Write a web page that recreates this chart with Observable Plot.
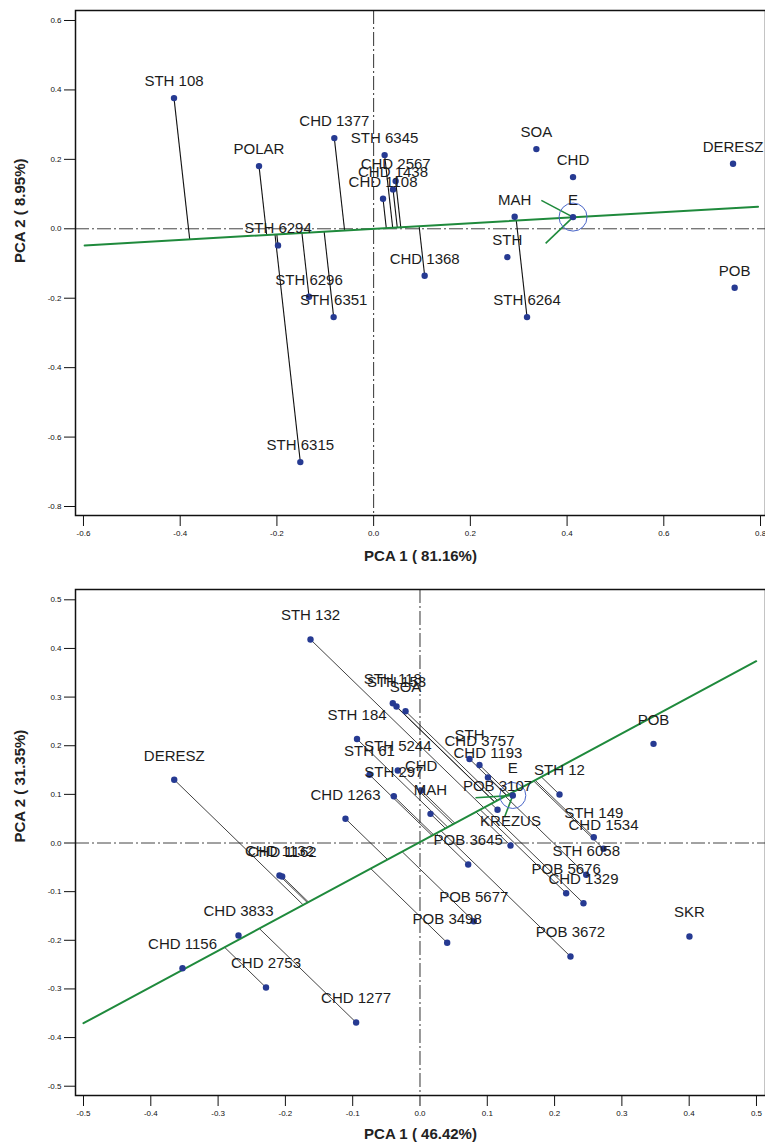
<!DOCTYPE html>
<html><head><meta charset="utf-8">
<script src="https://cdn.jsdelivr.net/npm/d3@7"></script>
<script src="https://cdn.jsdelivr.net/npm/@observablehq/plot@0.6"></script>
<style>
body{margin:0;background:#fff;}
#wrap{width:765px;}
#wrap svg{display:block;}
</style>
</head><body><div id="wrap"></div>
<script>
// ---------- Top panel data (PCA 1 81.16%, PCA 2 8.95%) ----------
const topNames = ["STH 108","POLAR","CHD 1377","STH 6345","CHD 2567","CHD 1438","CHD 1108","STH 6294","STH 6296","STH 6351","STH 6315","CHD 1368","STH","STH 6264","MAH","SOA","CHD","DERESZ","POB"];
const topX = [-0.4128,-0.2370,-0.0813,0.0227,0.0455,0.0401,0.0194,-0.1977,-0.1336,-0.0827,-0.1516,0.1055,0.2765,0.3172,0.2916,0.3365,0.4123,0.7432,0.7465];
const topY = [0.3765,0.1806,0.2613,0.2123,0.1374,0.1135,0.0864,-0.0478,-0.1959,-0.2544,-0.6721,-0.1354,-0.0815,-0.2544,0.0346,0.2296,0.1489,0.1872,-0.1700];
const topProj = [1,1,1,1,1,1,1,1,1,1,1,1,0,1,1,0,0,0,0];
const topAxisX = [-0.5976, 0.7949];
const topAxisY = [-0.0478, 0.0634];
const topE = [0.4123, 0.0337];
const topXTicks = [-0.6,-0.4,-0.2,0.0,0.2,0.4,0.6,0.8];
const topYTicks = [0.6,0.4,0.2,0.0,-0.2,-0.4,-0.6,-0.8];
const topXTitle = "PCA 1 ( 81.16%)";
const topYTitle = "PCA 2 ( 8.95%)";

// ---------- Bottom panel data (PCA 1 46.42%, PCA 2 31.35%) ----------
const botNames = ["STH 132","DERESZ","STH 184","STH 118","STH 153","SOA","STH 61","STH 5244","STH 297","CHD","CHD 1263","MAH","STH","CHD 3757","CHD 1193","POB 3107","KREZUS","POB 3645","STH 12","STH 149","CHD 1534","STH 6058","POB 5676","CHD 1329","POB","SKR","POB 5677","POB 3498","POB 3672","CHD 1277","CHD 2753","CHD 3833","CHD 1156","CHD 1132","CHD 1162"];
const botX = [-0.1627,-0.3652,-0.0936,-0.0404,-0.0349,-0.0215,-0.0750,-0.0330,-0.0389,0.0018,-0.1107,0.0156,0.0736,0.0884,0.1010,0.1152,0.1345,0.0716,0.2073,0.2582,0.2727,0.2470,0.2172,0.2429,0.3470,0.4004,0.0799,0.0404,0.2236,-0.0949,-0.2288,-0.2697,-0.3529,-0.2088,-0.2048];
const botY = [0.4184,0.1301,0.2138,0.2874,0.2806,0.2710,0.1402,0.1491,0.0962,0.1079,0.0500,0.0600,0.1727,0.1604,0.1347,0.0683,-0.0051,-0.0442,0.0997,0.0119,-0.0119,-0.0654,-0.1032,-0.1238,0.2039,-0.1922,-0.1608,-0.2052,-0.2333,-0.3690,-0.2971,-0.1902,-0.2574,-0.0668,-0.0689];
const botProj = [1,1,1,1,1,1,1,1,1,1,1,1,1,1,1,1,1,1,1,1,1,1,1,1,0,0,1,1,1,1,1,1,1,1,1];
const botAxisX = [-0.5000, 0.4996];
const botAxisY = [-0.3705, 0.3738];
const botE = [0.1379, 0.0977];
const botXTicks = [-0.5,-0.4,-0.3,-0.2,-0.1,0.0,0.1,0.2,0.3,0.4,0.5];
const botYTicks = [0.5,0.4,0.3,0.2,0.1,0.0,-0.1,-0.2,-0.3,-0.4,-0.5];
const botXTitle = "PCA 1 ( 46.42%)";
const botYTitle = "PCA 2 ( 31.35%)";

// ---------- styling ----------
const GREEN = "#1f8a3c", DOT = "#263a92", RING = "#4a66c8", INK = "#1c1c1c";
const FONT = "'Liberation Sans', Arial, Helvetica, sans-serif";
const fmt = d => d3.format(".1f")(d).replace("\u2212", "-");

function project(xs, ys, ax, ay) {
  const dx = ax[1] - ax[0], dy = ay[1] - ay[0], dd = dx * dx + dy * dy;
  return xs.map((x, i) => {
    const t = ((x - ax[0]) * dx + (ys[i] - ay[0]) * dy) / dd;
    return [ax[0] + t * dx, ay[0] + t * dy];
  });
}

function panel(p) {
  const feet = project(p.xs, p.ys, p.axisX, p.axisY);
  const rows = p.names.map((n, i) => ({name: n, x: p.xs[i], y: p.ys[i], proj: p.proj[i], fx: feet[i][0], fy: feet[i][1]}));
  const axisPts = p.axisX.map((x, i) => ({x, y: p.axisY[i]}));
  const ppx = (p.width - p.ml - p.mr) / (p.xDomain[1] - p.xDomain[0]);
  const ppy = (p.height - p.mt - p.mb) / (p.yDomain[1] - p.yDomain[0]);
  const E = {x: p.E[0], y: p.E[1], name: "E"};
  const arms = p.armDx.map((dx, i) => ({x1: E.x, y1: E.y, x2: E.x + dx / ppx, y2: E.y - p.armDy[i] / ppy}));
  return Plot.plot({
    width: p.width, height: p.height,
    marginLeft: p.ml, marginRight: p.mr, marginTop: p.mt, marginBottom: p.mb,
    x: {domain: p.xDomain},
    y: {domain: p.yDomain},
    style: {fontFamily: FONT, background: "#fff", color: "#111", overflow: "visible"},
    marks: [
      Plot.ruleX([0], {stroke: "#333", strokeWidth: 1, strokeDasharray: "14,3,2,3"}),
      Plot.ruleY([0], {stroke: "#444", strokeWidth: 1, strokeDasharray: "14,3,2,3"}),
      Plot.link(rows.filter(r => r.proj), {x1: "x", y1: "y", x2: "fx", y2: "fy", stroke: "#111", strokeWidth: p.projW}),
      Plot.line(axisPts, {x: "x", y: "y", stroke: GREEN, strokeWidth: 2}),
      Plot.link(arms, {x1: "x1", y1: "y1", x2: "x2", y2: "y2", stroke: GREEN, strokeWidth: 1.6}),
      Plot.dot([E], {x: "x", y: "y", r: p.ringR, stroke: RING, strokeWidth: 1, fill: "none"}),
      Plot.dot(rows, {x: "x", y: "y", r: 3.2, fill: DOT}),
      Plot.dot([E], {x: "x", y: "y", r: 3.2, fill: DOT}),
      Plot.text(rows, {x: "x", y: "y", text: "name", dy: p.labelDy, fontSize: 15, fill: INK}),
      Plot.text([E], {x: "x", y: "y", text: "name", dy: p.eDy, fontSize: 15, fill: INK}),
      Plot.frame({stroke: "#111", strokeWidth: 1.5}),
      Plot.axisX({ticks: p.xTicks, tickFormat: fmt, tickSize: 11, tickPadding: 4, fontSize: 8, label: null}),
      Plot.axisY({ticks: p.yTicks, tickFormat: fmt, tickSize: 11, tickPadding: 3, fontSize: 8, label: null}),
      Plot.text([p.xTitle], {text: d => d, frameAnchor: "bottom", dy: p.xTitleDy, fontWeight: "bold", fontSize: 15, fill: "#222"}),
      Plot.text([p.yTitle], {text: d => d, frameAnchor: "left", dx: -55, rotate: -90, fontWeight: "bold", fontSize: 15, fill: "#222"})
    ]
  });
}

const wrap = document.getElementById("wrap");
wrap.append(panel({
  names: topNames, xs: topX, ys: topY, proj: topProj,
  axisX: topAxisX, axisY: topAxisY, E: topE,
  xTicks: topXTicks, yTicks: topYTicks, xTitle: topXTitle, yTitle: topYTitle,
  width: 765, height: 575, ml: 75, mr: 0, mt: 10, mb: 60,
  xDomain: [-0.6165, 0.8103], yDomain: [-0.8259, 0.6288],
  armDx: [-31.7, -27.4], armDy: [-16.7, 26.3], ringR: 14,
  labelDy: -17, eDy: -17, projW: 1.1, xTitleDy: 45
}));
wrap.append(panel({
  names: botNames, xs: botX, ys: botY, proj: botProj,
  axisX: botAxisX, axisY: botAxisY, E: botE,
  xTicks: botXTicks, yTicks: botYTicks, xTitle: botXTitle, yTitle: botYTitle,
  width: 765, height: 573, ml: 75, mr: 0, mt: 14, mb: 53,
  xDomain: [-0.5119, 0.5134], yDomain: [-0.5191, 0.5212],
  armDx: [-37.3, -8.3], armDy: [2.3, 21.7], ringR: 13,
  labelDy: -24, eDy: -27, projW: 0.8, xTitleDy: 43
}));
</script>
</body></html>
